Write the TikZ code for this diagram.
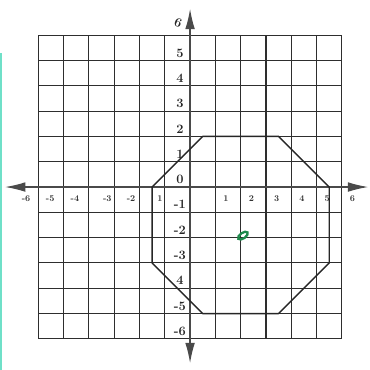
\documentclass[tikz,border=0pt]{standalone}
\usetikzlibrary{arrows.meta}
\definecolor{GridGray}{HTML}{2E2E2E}
\definecolor{AxisGray}{HTML}{4A4A4A}
\definecolor{MarkGreen}{HTML}{1E8A4C}
\definecolor{ScanTeal}{HTML}{6FE0C8}

\begin{document}
\begin{tikzpicture}[x=1cm,y=1cm]
    \tikzset{gridline/.style={GridGray,line width=1.2pt},
      axisline/.style={AxisGray,line width=1.4pt,{Latex[length=8mm,width=3.8mm]}-{Latex[length=8mm,width=3.8mm]}},
      ylabel/.style={font=\Large\bfseries,text=black!85,inner sep=0pt},
      xlabel/.style={font=\bfseries,text=black!80,inner sep=0pt},
      shapeline/.style={black!85,line width=1.6pt,line join=round}}
    \useasboundingbox (-7.51,-7.23) rectangle (7.11,7.39);
    % scan edge
    \fill[ScanTeal] (-7.51,-7.23) rectangle (-7.43,5.3);
    % grid
    \foreach \k in {-6,...,6} {
      \draw[gridline] (\k,-6) -- (\k,6);
      \draw[gridline] (-6,\k) -- (6,\k);
    }
    % axes
    \coordinate (xleft) at (-7.31,0);
    \coordinate (xright) at (7.04,0);
    \coordinate (ytop) at (0,7.04);
    \coordinate (ybottom) at (0,-6.96);
    \draw[axisline] (xleft) -- (xright);
    \draw[axisline] (ybottom) -- (ytop);
    % y labels
    \foreach \k/\t in {5/5,4/4,3/3,2/2,1/1,0/0,-1/-1,-2/-2,-3/-3,-4/4,-5/-5,-6/-6}
      \node[ylabel] (ylab\k) at (-0.4,\k+0.3) {\t};
    \node[ylabel,rotate=-20] (ylabtop) at (-0.47,6.48) {6};
    % x labels
    \foreach \k in {1,...,6}
      \node[xlabel] (xlab\k) at (\k+0.42,-0.45) {\k};
    \foreach \p/\t in {-6.48/-6,-5.53/-5,-4.55/-4,-3.27/-3,-2.33/-2,-1.19/1}
      \node[xlabel] (xlabn\t) at (\p,-0.45) {\t};
    % octagon
    \draw[shapeline] (0.5,2) -- (3.5,2) -- (5.5,0) -- (5.5,-3) -- (3.5,-5)
      -- (0.5,-5) -- (-1.5,-3) -- (-1.5,0) -- cycle;
    % green mark
    \draw[MarkGreen,line width=2.6pt,rotate around={35:(2.09,-1.92)}]
      (2.09,-1.92) ellipse (0.22 and 0.11);
  \end{tikzpicture}
\end{document}
